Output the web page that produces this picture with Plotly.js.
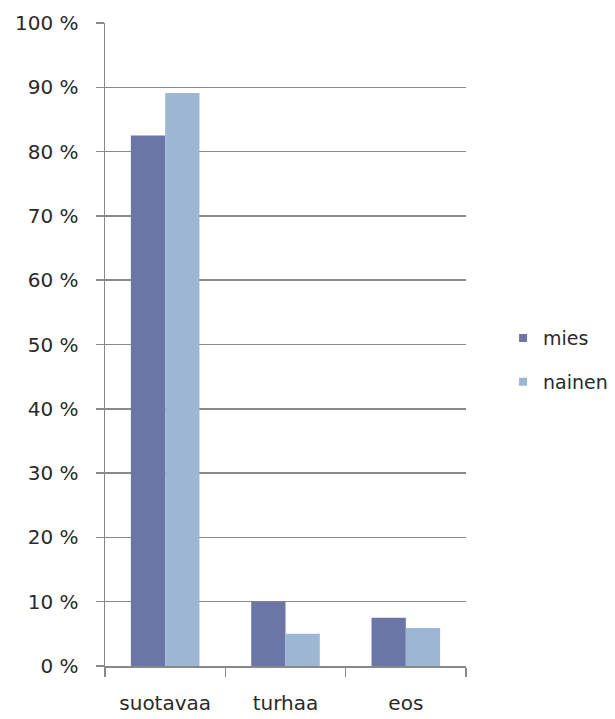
<!DOCTYPE html>
<html>
<head>
<meta charset="utf-8">
<script src="https://cdn.plot.ly/plotly-3.0.1.min.js"></script>
<style>html,body{margin:0;padding:0;background:#fff;}#chart{width:615px;height:719px;}</style>
</head>
<body>
<div id="chart"></div>
<script>
const categories = ["suotavaa", "turhaa", "eos"];
const mies = [82.5, 10.0, 7.5];
const nainen = [89.1, 5.0, 5.9];
const seriesNames = ["mies", "nainen"];
const seriesColors = ["#6b76a6", "#9db6d4"];
const yTickVals = [0, 10, 20, 30, 40, 50, 60, 70, 80, 90, 100];
const yTickText = yTickVals.map(v => v + " %");

const fam = "DejaVu Sans, Verdana, sans-serif";
const txtColor = "#2a2a2a";
const fs = 20;

const traces = [
  {type: "bar", name: seriesNames[0], x: categories, y: mies, marker: {color: seriesColors[0]}, hoverinfo: "none", showlegend: false},
  {type: "bar", name: seriesNames[1], x: categories, y: nainen, marker: {color: seriesColors[1]}, hoverinfo: "none", showlegend: false},
  // legend-only entries with small square keys
  {type: "scatter", mode: "markers", name: seriesNames[0], x: [null], y: [null], marker: {symbol: "square", size: 8, color: seriesColors[0]}, legendgroup: "a", hoverinfo: "none"},
  {type: "scatter", mode: "markers", name: seriesNames[1], x: [null], y: [null], marker: {symbol: "square", size: 8, color: seriesColors[1]}, legendgroup: "b", hoverinfo: "none"}
];

const layout = {
  width: 615, height: 719,
  margin: {l: 105, r: 149, t: 23, b: 53, pad: 0},
  paper_bgcolor: "#fff", plot_bgcolor: "#fff",
  font: {family: fam, size: fs, color: txtColor},
  barmode: "group", bargap: 0.43, bargroupgap: 0,
  showlegend: true,
  legend: {xref: "container", yref: "container", x: 0.818, xanchor: "left", y: 0.499, yanchor: "middle",
           font: {family: fam, size: 19, color: txtColor},
           itemwidth: 30, traceorder: "grouped", tracegroupgap: 16, bgcolor: "rgba(0,0,0,0)"},
  xaxis: {
    type: "category", showline: true, linecolor: "#888", linewidth: 1.5,
    ticks: "outside", tickson: "boundaries", ticklen: 9, tickcolor: "#888", tickwidth: 1.5,
    showgrid: false, tickfont: {family: fam, size: fs, color: txtColor}, ticklabelstandoff: 18
  },
  yaxis: {
    range: [0, 100], tickvals: yTickVals, ticktext: yTickText,
    showline: true, linecolor: "#888", linewidth: 1.5,
    ticks: "outside", ticklen: 8, tickcolor: "#888", tickwidth: 1.5,
    showgrid: true, gridcolor: "#888", gridwidth: 1.5, zeroline: false,
    tickfont: {family: fam, size: fs, color: txtColor}, ticklabelstandoff: 13
  }
};

Plotly.newPlot("chart", traces, layout, {displayModeBar: false, staticPlot: true});
</script>
</body>
</html>
